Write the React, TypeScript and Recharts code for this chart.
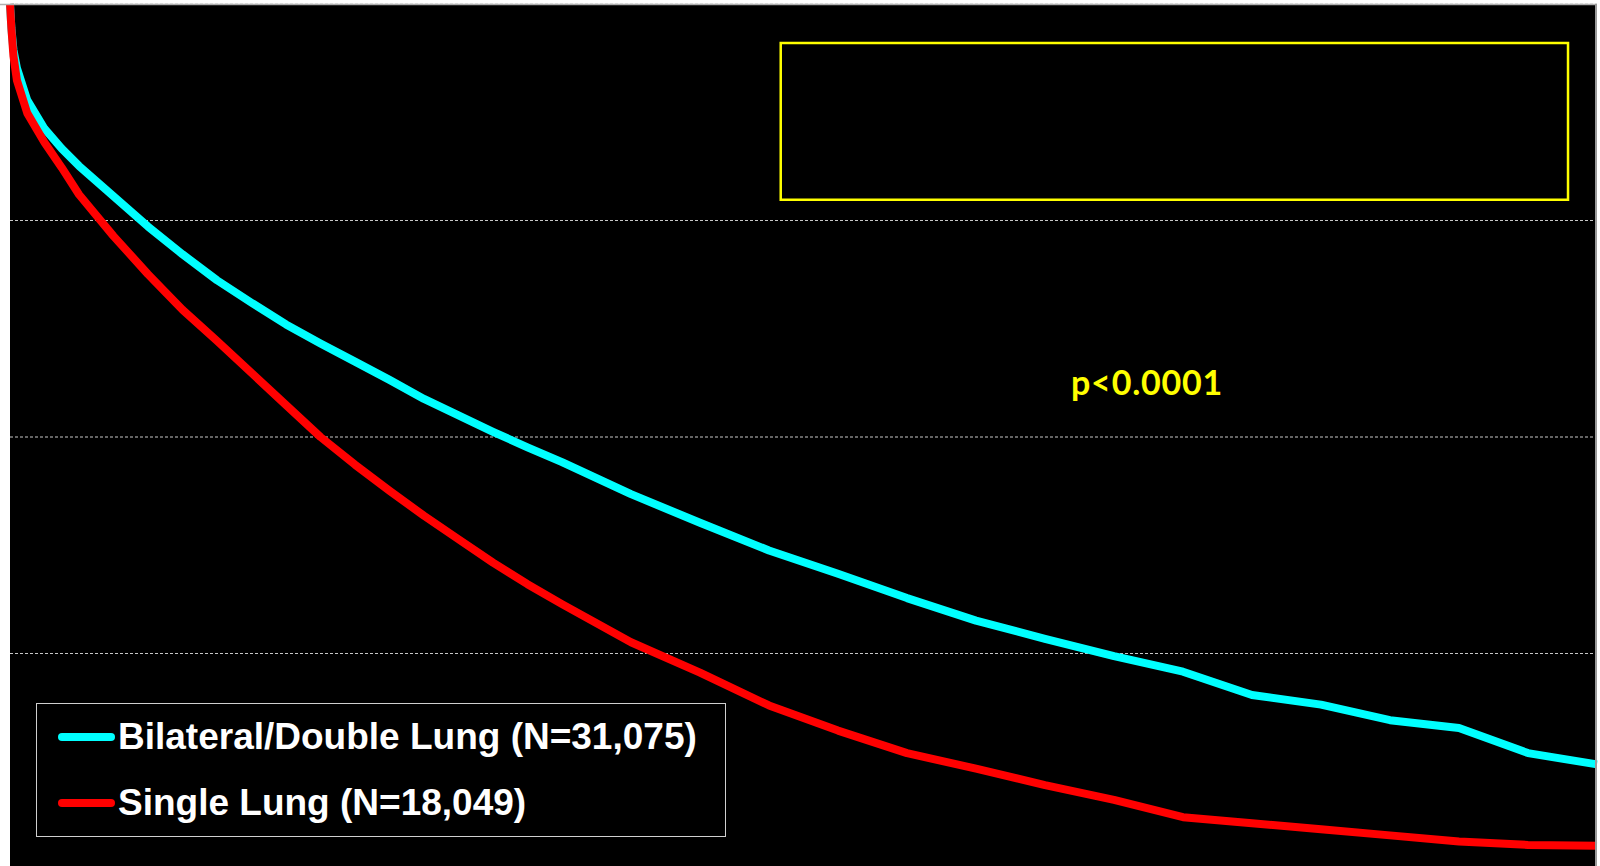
import { CartesianGrid, Legend, Line, LineChart, ReferenceArea, XAxis, YAxis } from "recharts";

// years after transplant
const years = [
  0, 0.02, 0.05, 0.1, 0.25, 0.5, 0.75, 1, 1.5, 2, 2.5, 3, 3.5, 4, 4.5, 5, 5.5, 6, 6.5, 7, 7.5, 8,
  9, 10, 11, 12, 13, 14, 15, 16, 17, 18, 19, 20, 21, 22, 23,
];

// survival (%)
const bilateral = [
  100, 97.2, 94.7, 92.6, 88.9, 85.6, 83.3, 81.3, 77.8, 74.3, 71.1, 68.1, 65.5, 63.0, 60.8, 58.7, 56.6, 54.4, 52.5, 50.6, 48.8, 47.1,
  43.4, 40.1, 36.9, 34.2, 31.4, 28.8, 26.7, 24.7, 22.9, 20.2, 19.1, 17.3, 16.4, 13.5, 12.2,
];
const single = [
  100, 97.2, 94.0, 91.2, 87.4, 84.0, 81.1, 78.0, 73.2, 68.8, 64.7, 61.1, 57.4, 53.7, 50.0, 46.8, 43.8, 40.9, 38.2, 35.5, 33.0, 30.7,
  26.3, 22.8, 19.0, 16.1, 13.5, 11.7, 9.8, 8.1, 6.1, 5.4, 4.7, 4.0, 3.3, 2.9, 2.8,
];

const seriesNames = ["Bilateral/Double Lung (N=31,075)", "Single Lung (N=18,049)"];
const yTicks = [25, 50, 75];
const pValue = "p<0.0001";

const data = years.map((t, i) => ({ t, bilateral: bilateral[i], single: single[i] }));

const CYAN = "#00ffff";
const RED = "#ff0000";

const renderLegend = (props: any) => {
  const items = props.payload || [];
  return (
    <div
      style={{
        width: 690,
        height: 134,
        boxSizing: "border-box",
        border: "1.5px solid #cfcfcf",
        background: "#000",
      }}
    >
      {items.map((it: any) => (
        <div key={it.value} style={{ display: "flex", alignItems: "center", height: 66 }}>
          <span
            style={{
              display: "inline-block",
              width: 57,
              height: 8,
              borderRadius: 4,
              marginLeft: 21,
              marginRight: 3,
              background: it.color,
            }}
          />
          <span
            style={{
              fontFamily: "'Liberation Sans', Arial, sans-serif",
              fontWeight: 700,
              fontSize: 37,
              color: "#fff",
              whiteSpace: "nowrap",
            }}
          >
            {it.value}
          </span>
        </div>
      ))}
    </div>
  );
};

export default function App() {
  return (
    <div
      style={{
        position: "absolute",
        left: 0,
        top: 0,
        width: 1600,
        height: 866,
        overflow: "hidden",
        background: "#fff",
      }}
    >
      <LineChart width={1600} height={874} data={data} margin={{ top: 4, right: 3, bottom: 4, left: 10 }}>
        <CartesianGrid vertical={false} fill="#000" stroke="#c8c8c8" strokeDasharray="3 2" />
        <XAxis type="number" dataKey="t" domain={[0, 23]} hide />
        <YAxis type="number" domain={[0, 100]} ticks={yTicks} hide />
        <ReferenceArea
          x1={11.17}
          x2={22.58}
          y1={77.4}
          y2={95.5}
          fill="none"
          fillOpacity={0}
          stroke="#ffff00"
          strokeWidth={2.5}
          strokeOpacity={1}
        />
        <Line
          type="linear"
          dataKey="bilateral"
          name={seriesNames[0]}
          stroke={CYAN}
          strokeWidth={8}
          strokeLinejoin="round"
          dot={false}
          isAnimationActive={false}
        />
        <Line
          type="linear"
          dataKey="single"
          name={seriesNames[1]}
          stroke={RED}
          strokeWidth={8}
          strokeLinejoin="round"
          dot={false}
          isAnimationActive={false}
        />
        <Legend
          layout="vertical"
          align="center"
          verticalAlign="middle"
          content={renderLegend}
          wrapperStyle={{ left: 36, top: 703, width: 690, height: 134 }}
        />
      </LineChart>
      <svg
        width={1600}
        height={866}
        style={{ position: "absolute", left: 0, top: 0, pointerEvents: "none" }}
      >
        <line x1={0} y1={4.5} x2={1597} y2={4.5} stroke="#b0b0b0" strokeWidth={1.5} />
        <line x1={1596} y1={4} x2={1596} y2={866} stroke="#9a9a9a" strokeWidth={2} />
        <text
          x={1071}
          y={395}
          fill="#ffff00"
          fontFamily="Lato, 'Open Sans', sans-serif"
          fontWeight={700}
          fontSize={34}
          letterSpacing={0.8}
        >
          {pValue}
        </text>
      </svg>
    </div>
  );
}
